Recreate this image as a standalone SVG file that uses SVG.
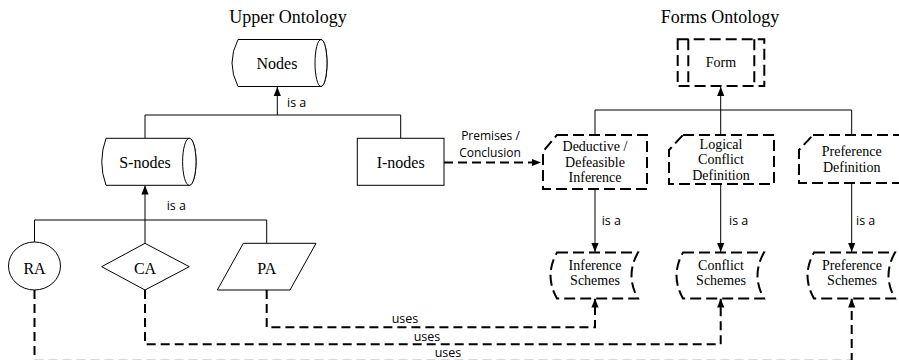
<svg xmlns="http://www.w3.org/2000/svg" width="899" height="360" viewBox="0 0 899 360">
<style>
.shape{fill:#fff;stroke:#000;stroke-width:1}
.dshape{fill:#fff;stroke:#000;stroke-width:2;stroke-dasharray:11,5}
.lbl{font-family:"Liberation Serif","Times New Roman",serif;text-anchor:middle;fill:#000}
.n16{font-size:16px}
.n14{font-size:14px}
.title{font-family:"Liberation Serif","Times New Roman",serif;font-size:18px;text-anchor:middle;fill:#000}
.edge{fill:none;stroke:#000;stroke-width:1}
.dedge{fill:none;stroke:#000;stroke-width:2;stroke-dasharray:9,5}
.fedge{fill:none;stroke:#d9d9d9;stroke-width:1;stroke-dasharray:9,5}
.elbl{font-family:"Open Sans","DejaVu Sans",sans-serif;font-size:12.5px;fill:#000}
.plbl{font-family:"Open Sans","DejaVu Sans",sans-serif;font-size:12px;fill:#000;text-anchor:middle}
</style>
<defs>
<marker id="ah" markerUnits="userSpaceOnUse" markerWidth="9" markerHeight="9" viewBox="0 0 10 10" refX="10" refY="5" orient="auto">
<path d="M0,1 L10,5 L0,9 Z" fill="#000"/>
</marker>
</defs>
<rect width="899" height="360" fill="#fff"/>
<text class="title" x="288" y="23">Upper Ontology</text>
<text class="title" x="720" y="23">Forms Ontology</text>

<g id="connectors">
<path class="edge" d="M145,138 V115 H400.7 V138"/>
<path class="edge" d="M277.3,115 V87" marker-end="url(#ah)"/>
<text class="elbl" x="287" y="107">is a</text>
<path class="edge" d="M34.5,242 V220 H266.7 V243.3"/>
<path class="edge" d="M145,243.3 V185.5" marker-end="url(#ah)"/>
<text class="elbl" x="166.7" y="210">is a</text>
<path class="edge" d="M595,135 V110 H851.7 V135"/>
<path class="edge" d="M720.7,135 V87" marker-end="url(#ah)"/>
<path class="edge" d="M595,189 V252" marker-end="url(#ah)"/>
<path class="edge" d="M720.7,184 V252" marker-end="url(#ah)"/>
<path class="edge" d="M851.7,183 V252" marker-end="url(#ah)"/>
<text class="elbl" x="601.7" y="225">is a</text>
<text class="elbl" x="729" y="225">is a</text>
<text class="elbl" x="856" y="225">is a</text>
<path class="dedge" d="M444,162.5 H541" marker-end="url(#ah)"/>
<text class="plbl" x="490.5" y="140">Premises /</text>
<text class="plbl" x="490" y="157">Conclusion</text>
<path class="dedge" d="M266.7,290 V327.3 H595 V298.5" marker-end="url(#ah)"/>
<path class="dedge" d="M145,290 V344.3 H720.7 V298.5" marker-end="url(#ah)"/>
<path class="dedge" d="M34.5,290 V362"/>
<path class="fedge" d="M34.5,359.5 H851.7"/>
<path class="dedge" d="M851.7,362 V298.5" marker-end="url(#ah)"/>
<text class="elbl" x="405" y="323" text-anchor="middle">uses</text>
<text class="elbl" x="427" y="341" text-anchor="middle">uses</text>
<text class="elbl" x="448" y="356.5" text-anchor="middle">uses</text>
</g>

<g id="node-nodes">
<path class="shape" d="M238,39.5 L321,39.5 A6 23.5 0 0 1 321,86.5 L238,86.5 Q226,63 238,39.5 Z"/>
<ellipse class="shape" cx="321" cy="63" rx="6" ry="23.5"/>
<text class="lbl n16" x="277" y="68.5">Nodes</text>
</g>

<g id="node-snodes">
<path class="shape" d="M106,138.3 L189.3,138.3 A6.7 23.5 0 0 1 189.3,185.3 L106,185.3 Q97.5,161.8 106,138.3 Z"/>
<ellipse class="shape" cx="189.3" cy="161.8" rx="6.7" ry="23.5"/>
<text class="lbl n16" x="145" y="167.5">S-nodes</text>
</g>

<g id="node-inodes">
<rect class="shape" x="357.3" y="138.3" width="86.7" height="47"/>
<text class="lbl n16" x="400.7" y="167.5">I-nodes</text>
</g>

<g id="node-ra">
<ellipse class="shape" cx="34.5" cy="266" rx="26" ry="24"/>
<text class="lbl n16" x="34.5" y="274">RA</text>
</g>

<g id="node-ca">
<path class="shape" d="M145,243.3 L189.3,266.7 L145,290 L101.7,266.7 Z"/>
<text class="lbl n16" x="145" y="274">CA</text>
</g>

<g id="node-pa">
<path class="shape" d="M243.3,243.3 L316,243.3 L290,290 L217.3,290 Z"/>
<text class="lbl n16" x="266.7" y="274">PA</text>
</g>

<g id="node-form">
<rect class="dshape" x="677.7" y="39.3" width="86.6" height="46.7"/>
<path class="dshape" d="M688.3,39.3 V86 M754.3,39.3 V86"/>
<text class="lbl n14" x="721" y="67.3">Form</text>
</g>

<g id="node-deductive">
<path class="dshape" d="M557,135 L647,135 L647,189 L543,189 L543,151.5 Z"/>
<text class="lbl n14" x="595" y="150.7">Deductive /</text>
<text class="lbl n14" x="595" y="166.7">Defeasible</text>
<text class="lbl n14" x="595" y="182.3">Inference</text>
</g>

<g id="node-logical">
<path class="dshape" d="M683,135 L774,135 L774,184 L669,184 L669,150 Z"/>
<text class="lbl n14" x="721" y="148.5">Logical</text>
<text class="lbl n14" x="721" y="164.3">Conflict</text>
<text class="lbl n14" x="721" y="180">Definition</text>
</g>

<g id="node-preference">
<path class="dshape" d="M813,135 L906,135 L906,183 L799,183 L799,150 Z"/>
<text class="lbl n14" x="851.7" y="156">Preference</text>
<text class="lbl n14" x="851.7" y="171.7">Definition</text>
</g>

<g id="node-inference-schemes">
<path class="dshape" d="M557,252.5 L638,252.5 Q625,275.5 638,298.5 L557,298.5 Q544,275.5 557,252.5 Z"/>
<text class="lbl n14" x="595" y="269.5">Inference</text>
<text class="lbl n14" x="595" y="285">Schemes</text>
</g>

<g id="node-conflict-schemes">
<path class="dshape" d="M683,252.5 L764,252.5 Q751,275.5 764,298.5 L683,298.5 Q670,275.5 683,252.5 Z"/>
<text class="lbl n14" x="721" y="269.5">Conflict</text>
<text class="lbl n14" x="721" y="285">Schemes</text>
</g>

<g id="node-preference-schemes">
<path class="dshape" d="M814,252.5 L895,252.5 Q882,275.5 895,298.5 L814,298.5 Q801,275.5 814,252.5 Z"/>
<text class="lbl n14" x="852" y="269.5">Preference</text>
<text class="lbl n14" x="852" y="285">Schemes</text>
</g>
</svg>
